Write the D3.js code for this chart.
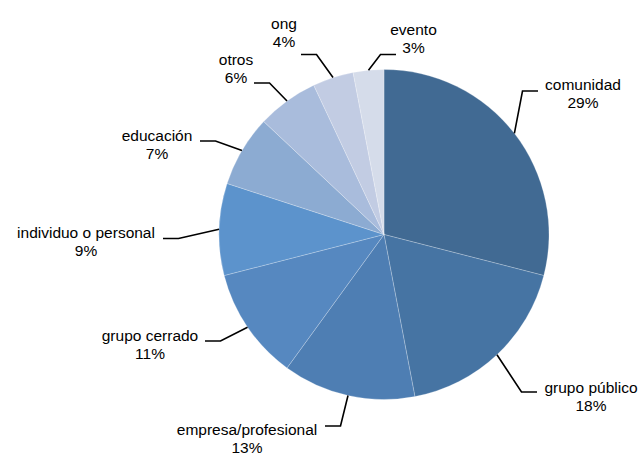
<!DOCTYPE html>
<html>
<head>
<meta charset="utf-8">
<script src="https://cdn.jsdelivr.net/npm/d3@7"></script>
<style>
  html, body { margin: 0; padding: 0; background: #fff; }
  svg { display: block; }
  text { font-family: "Liberation Sans", Arial, sans-serif; fill: #000; }
</style>
</head>
<body>
<svg id="chart" width="640" height="455"></svg>
<script>
// Categories and their shares (percent), clockwise from 12 o'clock
const categories = ["comunidad", "grupo público", "empresa/profesional", "grupo cerrado",
  "individuo o personal", "educación", "otros", "ong", "evento"];
const shares = [29, 18, 13, 11, 9, 7, 6, 4, 3];
const sliceColors = ["#416a93", "#4674a3", "#4e7eb3", "#5688c0", "#5c93cc",
  "#8cabd2", "#a9bcdc", "#c2cce3", "#d5dcea"];

// Label placement: text centre x, first baseline y, and where the leader meets the label
const labelLayout = [
  { x: 583, y: 90,  ex: 538, ey: 91 },
  { x: 591, y: 393, ex: 537, ey: 392 },
  { x: 247, y: 435, ex: 325, ey: 426 },
  { x: 150, y: 341, ex: 205, ey: 341 },
  { x: 86,  y: 238, ex: 163, ey: 238.5 },
  { x: 157, y: 141, ex: 200, ey: 141 },
  { x: 236, y: 65,  ex: 254, ey: 83 },
  { x: 284, y: 28.5, ex: 301, ey: 54.5 },
  { x: 413.5, y: 35, ex: 396, ey: 54.5 }
];

const cx = 384, cy = 234.5, radius = 165;
const svg = d3.select("#chart");
const g = svg.append("g").attr("transform", `translate(${cx},${cy})`);

const data = categories.map((c, i) => ({ name: c, value: shares[i], i }));
const pie = d3.pie().value(d => d.value).sort(null);
const arcs = pie(data);
const arc = d3.arc().innerRadius(0).outerRadius(radius);

g.selectAll("path.slice")
  .data(arcs)
  .join("path")
  .attr("class", "slice")
  .attr("d", arc)
  .attr("fill", d => sliceColors[d.data.i])
  .attr("stroke", "rgba(255,255,255,0.4)")
  .attr("stroke-width", 0.6);

// Leader lines: from the slice edge at its mid angle, to an elbow, then horizontal to the label
const pct = d3.format(".0f");
arcs.forEach(d => {
  const L = labelLayout[d.data.i];
  const mid = (d.startAngle + d.endAngle) / 2;
  const px = cx + radius * Math.sin(mid);
  const py = cy - radius * Math.cos(mid);
  const side = L.ex > px ? 1 : -1;
  const elbowX = L.ex - side * 15.5;
  svg.append("polyline")
    .attr("points", `${px},${py} ${elbowX},${L.ey} ${L.ex},${L.ey}`)
    .attr("fill", "none")
    .attr("stroke", "#000")
    .attr("stroke-width", 1.6);

  const t = svg.append("text")
    .attr("text-anchor", "middle")
    .attr("font-size", "15.5px");
  t.append("tspan").attr("x", L.x).attr("y", L.y).text(d.data.name);
  t.append("tspan").attr("x", L.x).attr("y", L.y + 18).text(pct(d.data.value) + "%");
});
</script>
</body>
</html>
